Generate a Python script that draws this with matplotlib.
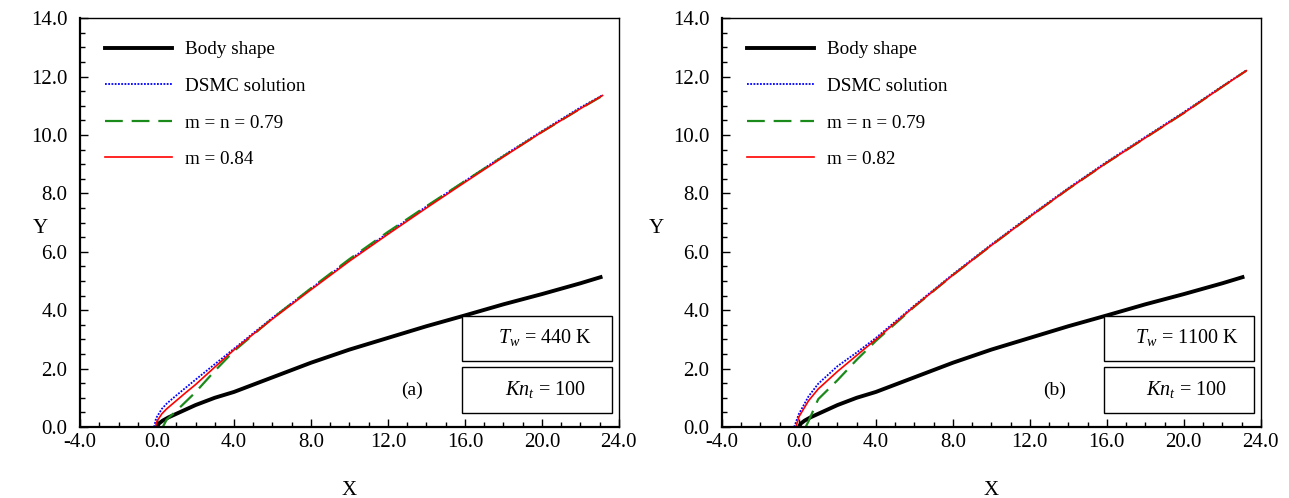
"""
Shock shape ahead of the body, DSMC vs. the m / m = n fits
(a) Tw = 440 K, (b) Tw = 1100 K, Kn = 100
"""
import matplotlib.pyplot as plt
from matplotlib.patches import Rectangle
from matplotlib.ticker import MultipleLocator, FormatStrFormatter

plt.rcParams['font.family'] = ['Liberation Serif', 'DejaVu Serif']
plt.rcParams['mathtext.fontset'] = 'custom'
plt.rcParams['mathtext.rm'] = 'Liberation Serif'
plt.rcParams['mathtext.it'] = 'Liberation Serif:italic'
plt.rcParams['axes.unicode_minus'] = False

# body contour (same in both panels)
body_x = [0, 0.1, 0.3, 0.6, 1, 2, 3, 4, 6, 8, 10, 12, 14, 16, 18, 20, 22, 23.05]
body_y = [0, 0.12, 0.22, 0.33, 0.45, 0.75, 1.0, 1.2, 1.7, 2.2, 2.65, 3.05, 3.45, 3.82, 4.2, 4.55, 4.92, 5.13]

# panel (a), Tw = 440 K
a_dsmc_x = [-0.15, -0.05, 0.25, 0.5, 1, 1.5, 2, 3, 4, 6, 8, 10, 12, 14, 16, 18, 20, 22, 23.15]
a_dsmc_y = [0, 0.3, 0.62, 0.8, 1.08, 1.35, 1.62, 2.15, 2.68, 3.74, 4.74, 5.72, 6.64, 7.55, 8.42, 9.29, 10.13, 10.94, 11.36]
a_mn_x = [0.3, 0.5, 1, 2, 3, 4, 6, 8, 10, 12, 14, 16, 18, 20, 22, 23.15]
a_mn_y = [0, 0.25, 0.55, 1.19, 1.92, 2.6, 3.72, 4.75, 5.75, 6.68, 7.56, 8.42, 9.27, 10.1, 10.9, 11.34]
a_m_x = [-0.08, 0, 0.25, 0.5, 1, 1.5, 2, 3, 4, 5, 6, 8, 10, 12, 14, 16, 18, 20, 22, 23.15]
a_m_y = [0, 0.2, 0.45, 0.62, 0.9, 1.18, 1.45, 2.05, 2.64, 3.18, 3.7, 4.7, 5.68, 6.6, 7.5, 8.38, 9.25, 10.1, 10.9, 11.35]

# panel (b), Tw = 1100 K
b_dsmc_x = [-0.25, 0, 0.5, 1, 2, 3, 4, 6, 8, 10, 12, 14, 16, 18, 20, 22, 23.25]
b_dsmc_y = [0, 0.45, 1.05, 1.48, 2.08, 2.55, 3.05, 4.16, 5.23, 6.25, 7.23, 8.18, 9.08, 9.93, 10.78, 11.67, 12.21]
b_mn_x = [0.35, 0.5, 1, 2, 3, 4, 6, 8, 10, 12, 14, 16, 18, 20, 22, 23.25]
b_mn_y = [0, 0.2, 0.95, 1.6, 2.3, 2.95, 4.12, 5.2, 6.22, 7.2, 8.15, 9.05, 9.9, 10.75, 11.65, 12.2]
b_m_x = [-0.16, 0, 0.5, 1, 2, 3, 4, 6, 8, 10, 12, 14, 16, 18, 20, 22, 23.25]
b_m_y = [0, 0.35, 0.9, 1.3, 1.9, 2.45, 3.0, 4.13, 5.2, 6.22, 7.2, 8.15, 9.05, 9.9, 10.75, 11.65, 12.2]

panels = [
    dict(dsmc=(a_dsmc_x, a_dsmc_y), mn=(a_mn_x, a_mn_y), m=(a_m_x, a_m_y),
         m_label='m = 0.84', tw=r'$T_w$ = 440 K', tag='(a)', ylab_x=-0.074),
    dict(dsmc=(b_dsmc_x, b_dsmc_y), mn=(b_mn_x, b_mn_y), m=(b_m_x, b_m_y),
         m_label='m = 0.82', tw=r'$T_w$ = 1100 K', tag='(b)', ylab_x=-0.121),
]

fig = plt.figure(figsize=(12.89, 4.98), dpi=100)
axes = [fig.add_axes([0.0621, 0.1426, 0.418, 0.821]),
        fig.add_axes([0.5601, 0.1426, 0.418, 0.821])]

for ax, p in zip(axes, panels):
    ax.plot(body_x, body_y, color='black', lw=2.8, label='Body shape')
    ax.plot(*p['dsmc'], color='#0000ff', lw=1.3, ls=(0, (1, 0.8)), label='DSMC solution')
    ax.plot(*p['mn'], color='#1a8a1a', lw=1.6, ls=(0, (8, 4)), label='m = n = 0.79')
    ax.plot(*p['m'], color='#ff0000', lw=1.2, label=p['m_label'])

    ax.set_xlim(-4, 24)
    ax.set_ylim(0, 14)
    ax.xaxis.set_major_locator(MultipleLocator(4))
    ax.xaxis.set_minor_locator(MultipleLocator(1))
    ax.yaxis.set_major_locator(MultipleLocator(2))
    ax.yaxis.set_minor_locator(MultipleLocator(0.5))
    ax.xaxis.set_major_formatter(FormatStrFormatter('%.1f'))
    ax.yaxis.set_major_formatter(FormatStrFormatter('%.1f'))
    ax.tick_params(which='both', direction='in', top=False, right=False,
                   labelsize=15, width=1.0)
    ax.tick_params(axis='x', pad=4)
    ax.tick_params(axis='y', pad=9)
    ax.tick_params(which='major', length=6)
    ax.tick_params(which='minor', length=3.5)
    for side in ['left', 'bottom']:
        ax.spines[side].set_linewidth(1.6)
    for side in ['top', 'right']:
        ax.spines[side].set_linewidth(1.0)

    ax.set_xlabel('X', fontsize=15, labelpad=21)
    ax.set_ylabel('Y', fontsize=15, rotation=0, va='center', ha='center')
    ax.yaxis.set_label_coords(p['ylab_x'], 0.485)

    ax.legend(loc='upper left', bbox_to_anchor=(0.046, 0.944), frameon=False,
              fontsize=13.8, handlelength=3.5, handletextpad=0.7,
              labelspacing=1.0, borderpad=0, borderaxespad=0)

    # parameter boxes
    ax.add_patch(Rectangle((0.709, 0.161), 0.279, 0.110, transform=ax.transAxes,
                           facecolor='white', edgecolor='black', lw=1.0, zorder=5))
    ax.add_patch(Rectangle((0.709, 0.034), 0.279, 0.113, transform=ax.transAxes,
                           facecolor='white', edgecolor='black', lw=1.0, zorder=5))
    ax.text(0.863, 0.218, p['tw'], transform=ax.transAxes, fontsize=14.5,
            ha='center', va='center', zorder=6)
    ax.text(0.863, 0.092, r'$Kn_t$ = 100', transform=ax.transAxes, fontsize=14.5,
            ha='center', va='center', zorder=6)
    ax.text(0.617, 0.09, p['tag'], transform=ax.transAxes, fontsize=14,
            ha='center', va='center')

plt.savefig('out.png', dpi=100)
